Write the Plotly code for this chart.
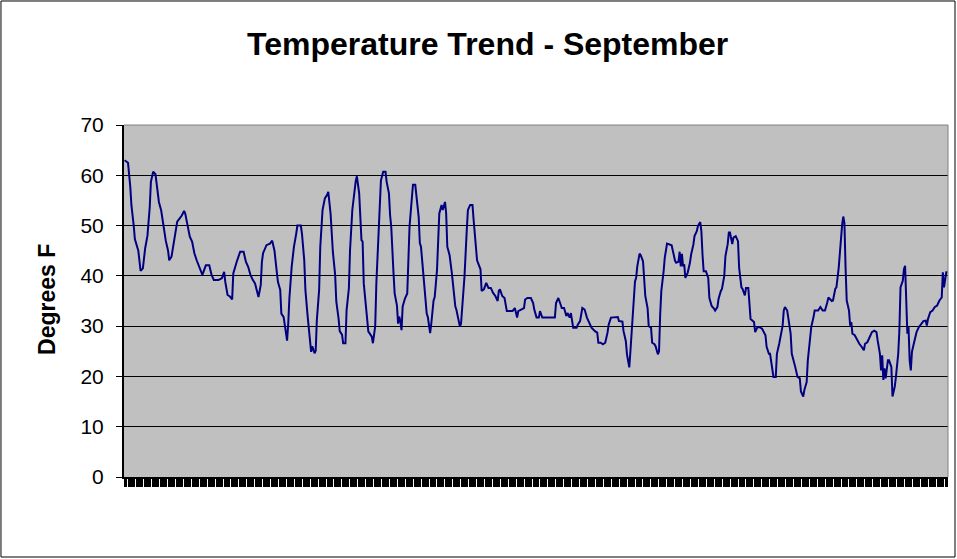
import plotly.graph_objects as go

# Hour of the month (0 = Sep 1, 00:00) and temperature readings (deg F)
hours = [0,3,5,6,8,9,12,14,16,18,20,22,23,25,27,28,30,32,34,36,38,39,41,44,46,48,50,52,53,55,57,59,61,63,66,68,71,74,76,78,82,85,87,88,90,92,94,95,98,101,
104,106,108,110,112,114,117,119,120,121,124,127,129,131,133,134,136,137,139,140,142,143,144,146,148,150,151,154,155,157,158,160,161,163,164,166,167,168,170,171,173,175,177,178,180,181,182,184,185,187,
188,190,191,193,194,196,197,199,201,202,203,205,207,208,209,210,211,213,214,216,217,219,220,222,223,224,226,228,229,231,232,233,235,236,238,239,240,241,242,243,245,247,248,249,251,252,254,255,257,258,
259,261,262,264,265,267,268,270,271,273,274,275,277,278,280,281,282,284,286,287,289,290,291,293,294,296,297,299,300,302,304,305,307,308,309,311,312,314,316,318,320,322,324,326,327,328,330,332,334,336,
339,341,343,344,346,349,350,352,355,357,358,360,362,363,365,368,373,376,377,379,381,382,384,386,387,389,390,392,395,396,398,400,402,404,406,408,411,413,414,416,418,420,422,423,425,428,431,432,435,436,
438,439,441,442,444,446,447,448,450,451,453,454,455,457,458,460,461,463,464,466,467,468,469,471,472,474,476,478,481,482,484,485,486,487,488,489,490,492,494,495,497,498,500,501,503,504,505,506,508,510,
511,513,515,516,518,519,521,522,524,525,527,528,529,531,532,534,536,537,539,540,542,543,545,546,547,550,551,553,555,557,559,560,561,563,564,566,567,569,570,572,573,575,576,577,579,580,582,583,585,586,
588,590,591,593,594,596,597,599,600,602,603,606,608,610,612,614,615,618,619,621,622,624,625,627,628,629,630,631,633,634,635,636,638,640,642,644,646,647,649,651,653,655,657,658,660,661,662,663,664,665,
667,668,670,671,673,674,676,677,678,680,681,682,683,684,685,686,687,688,689,691,692,694,695,698,700,701,702,704,706,708,710,712,714,715,716,717,718,719]

temps = [63,62.5,57.7,54,50,47.3,45,41,41.5,45.5,48,53.7,58.7,60.7,60.2,58.3,54.7,53,49.5,47,45,43.1,43.8,48.4,50.8,51.4,52,52.9,52.4,50.1,47.8,46.8,44.5,43.1,41.5,40.2,42.1,42.1,40.2,39.2,39.2,39.5,40.8,38.8,36.2,35.9,35.3,40.5,42.8,44.8,
44.8,42.8,41.8,40.2,39.2,38.5,35.8,38.2,42.8,44.5,46.1,46.4,47,45,40.8,38.8,37.2,32.5,31.8,29.9,27.1,30.5,35.5,41.8,45.8,48.4,50,50,48.4,43.1,37.2,31.9,29.6,24.9,26,24.6,25.1,31.2,37.2,45.8,53.1,55.4,56.1,56.7,52.4,48,44.8,40.2,34.9,31.5,
29,28.3,26.6,26.6,33.2,37.5,45.1,53.1,57.7,58.9,59.8,56.4,47.1,46.8,38.5,35.8,32.9,28.9,28.6,27.9,26.6,30,38.5,48.4,53.4,59,60.7,60.7,58.7,56.4,52.1,49.8,40.5,36.5,34.1,30.5,31.9,30.9,29.2,33.9,35.5,36.5,43.1,49.8,55.4,58.1,58.1,56.1,51.7,46.5,
45.8,40.5,37.5,32.5,31.8,28.6,30.5,35.1,35.8,41.2,46.8,52.4,54.1,53.1,54.7,52.4,45.8,44.1,40.5,37.9,33.9,33.2,31.9,29.9,30.5,35.8,39.8,49.1,53.1,54.1,54.1,51.1,45.8,43.1,42.5,41.3,37,37.3,38.6,37.6,37.6,36.6,36,35,37,37.3,36,35.6,33,33,
33,33.6,31.7,33,33.3,33.6,35.3,35.6,35.6,34.6,33.3,31.7,31.7,33,31.7,31.7,31.7,31.7,34.6,35.6,34.3,33.6,33.6,32,32.6,31.7,32.6,29.7,29.7,30.3,31,33.6,33.3,31.7,30.7,29.7,29,28.7,26.7,26.7,26.4,26.7,28.7,30.3,31.7,31.8,31.8,31,30.9,29,
27,24.4,21.8,25,31,38.9,39.6,41.9,44.4,44.1,42.9,39.6,36,33.6,30,29.7,26.7,26.4,26,24.4,25,32.3,37,40.9,43.6,46.4,46.2,46.1,43,42.6,42.8,44.8,41.9,44.4,41.9,42.3,39.6,40.6,42.6,44.2,46.2,47.9,48.9,49.9,50.7,48.9,44.2,40.9,40.9,39.6,
35.6,34,33.5,33.1,33.8,35.4,37,37.4,40,43.9,46.3,48.6,48.6,46.3,47.6,47.9,46.9,41.6,37.7,37.4,36.1,37.6,37.6,33.8,31.4,30.8,28.8,29.8,29.8,29.5,28.5,28.2,25.9,24.5,24.5,21.9,19.9,19.9,24.5,26.5,27.8,30.1,33.1,33.8,33.1,31.8,28.5,24.5,22.9,21.9,
19.9,19.6,17,16,17.3,18.9,23.2,27.2,29.8,31.8,33.1,33.1,33.8,33.1,33.1,34.7,35.7,35,35.1,37.4,37.7,41.6,44.9,50.2,51.8,50.5,41.6,35.1,33.1,30.1,30.8,28.5,28.2,27.2,26.5,25.9,25.2,26.5,26.8,27.8,28.8,29.1,28.8,27.2,24.5,21.2,24.2,19.3,21.6,19.6,
23.2,23.2,21.9,16,18,19.9,24.5,29.1,37.7,39,41.3,42,35.1,28.5,29.8,23.2,21.2,24.9,25.9,28.2,28.8,29.8,30.1,31,31.1,30.1,31.4,32.8,33.1,33.8,34.1,35.1,35.7,40.7,37.7,39.7,40.7,40.7]

y_ticks = [0, 10, 20, 30, 40, 50, 60, 70]
chart_title = "Temperature Trend - September"
y_title = "Degrees F"

FONT = "Liberation Sans, Arial, sans-serif"

fig = go.Figure()
fig.add_trace(go.Scatter(
    x=hours, y=temps, mode="lines",
    line=dict(color="#000080", width=2),
    hoverinfo="x+y", showlegend=False,
))

fig.update_layout(
    width=957, height=559,
    margin=dict(l=124, r=9, t=125, b=82),
    paper_bgcolor="white",
    plot_bgcolor="#C0C0C0",
    font=dict(family=FONT, color="black"),
    xaxis=dict(
        range=[-0.5, 719.5], tickmode="linear", tick0=0, dtick=1,
        ticks="outside", ticklen=8, tickwidth=1, tickcolor="black",
        showticklabels=False, showgrid=False, zeroline=False,
        showline=True, linecolor="black", linewidth=2,
    ),
    yaxis=dict(
        range=[0, 70], tickmode="array", tickvals=y_ticks,
        ticktext=[str(v) for v in y_ticks],
        ticks="outside", ticklen=6, tickwidth=1, tickcolor="black",
        tickfont=dict(size=21, family=FONT, color="black"),
        ticklabelstandoff=8,
        showgrid=True, gridcolor="black", gridwidth=1,
        zeroline=False, showline=True, linecolor="black", linewidth=2,
    ),
    shapes=[
        dict(type="line", xref="paper", yref="paper", x0=0, x1=1, y0=1, y1=1,
             line=dict(color="#808080", width=1)),
        dict(type="line", xref="paper", yref="paper", x0=1, x1=1, y0=0, y1=1,
             line=dict(color="#808080", width=1)),
        dict(type="rect", xref="paper", yref="paper",
             x0=-0.1493, x1=1.0085, y0=-0.2273, y1=1.3523,
             line=dict(color="black", width=1), fillcolor="rgba(0,0,0,0)"),
    ],
    annotations=[
        dict(text="<b>" + chart_title + "</b>", xref="paper", yref="paper",
             x=0.4417, y=1.23, xanchor="center", yanchor="middle",
             showarrow=False, font=dict(size=32, family=FONT, color="black")),
        dict(text="<b>" + y_title + "</b>", xref="paper", yref="paper",
             x=-0.0934, y=0.503, xanchor="center", yanchor="middle",
             textangle=-90, showarrow=False,
             font=dict(size=23, family=FONT, color="black")),
    ],
)

fig.write_html(
    "out.html",
    config={"displayModeBar": False},
    post_script="document.body.style.margin='0';document.body.style.padding='0';"
                "document.body.style.overflow='hidden';",
)
